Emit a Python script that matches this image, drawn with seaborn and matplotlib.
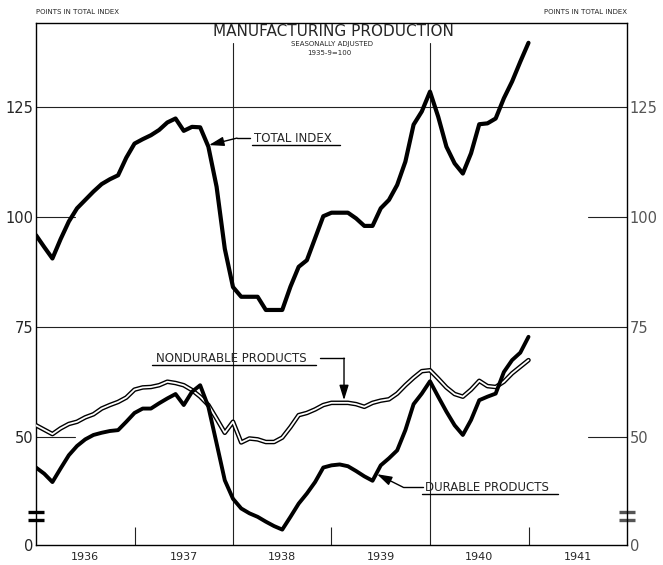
"""Manufacturing production chart, 1936-1940, with durable and nondurable parts."""

import matplotlib
matplotlib.use("Agg")
import matplotlib.pyplot as plt
import pandas as pd
import seaborn as sns

# month index counted from January 1936 (0) to January 1941 (60)
months = list(range(61))

total_index = [
    95.9, 93.2, 90.6, 95.0, 99.0, 102.0, 103.9, 105.8, 107.5, 108.6, 109.5, 113.5,
    116.7, 117.7, 118.6, 119.8, 121.5, 122.4, 119.6, 120.5, 120.4, 116.0, 106.9, 92.8,
    84.1, 81.9, 81.9, 81.9, 78.9, 78.9, 78.9, 84.2, 88.7, 90.2, 95.2, 100.2,
    101.0, 101.0, 101.0, 99.7, 98.0, 98.0, 102.0, 103.9, 107.3, 112.6, 121.0, 124.0,
    128.5, 122.8, 116.0, 112.2, 109.9, 114.5, 121.1, 121.3, 122.4, 127.0, 130.8, 135.3,
    139.6,
]
durable = [
    43.1, 41.7, 39.8, 42.9, 45.9, 48.0, 49.5, 50.5, 51.0, 51.4, 51.6, 53.5,
    55.5, 56.5, 56.5, 57.7, 58.8, 59.8, 57.3, 60.3, 61.8, 56.9, 48.6, 40.2,
    36.0, 33.8, 32.7, 31.9, 30.8, 29.8, 29.0, 31.9, 34.9, 37.2, 39.8, 43.1,
    43.6, 43.8, 43.4, 42.3, 41.1, 40.1, 43.6, 45.2, 47.0, 51.6, 57.5, 59.9,
    62.7, 59.2, 55.8, 52.7, 50.5, 53.9, 58.4, 59.2, 59.9, 64.8, 67.5, 69.2,
    72.8,
]
nondurable = [
    52.7, 51.7, 50.7, 52.0, 53.0, 53.5, 54.5, 55.2, 56.5, 57.3, 58.0, 59.0,
    60.8, 61.3, 61.4, 61.8, 62.6, 62.3, 61.8, 60.7, 59.2, 57.3, 54.2, 51.0,
    53.5, 48.8, 49.7, 49.5, 48.9, 48.9, 49.9, 52.3, 55.0, 55.5, 56.3, 57.3,
    57.8, 57.8, 57.8, 57.5, 56.9, 57.8, 58.3, 58.6, 59.9, 61.8, 63.5, 65.0,
    65.2, 63.3, 61.3, 59.8, 59.2, 60.8, 62.8, 61.6, 61.4, 62.6, 64.5, 66.0,
    67.5,
]

years = ["1936", "1937", "1938", "1939", "1940", "1941"]
ytick_values = [50, 75, 100, 125]
AXIS_FLOOR = 25.5  # bottom of the broken scale, labelled "0"

df = pd.DataFrame({
    "month": months, "total": total_index,
    "durable": durable, "nondurable": nondurable,
})

sns.set_style("white")
plt.rcParams["font.family"] = ["DejaVu Sans"]

fig = plt.figure(figsize=(6.63, 5.65), dpi=100)
ax = fig.add_axes([36 / 663, 20 / 565, 591 / 663, 522 / 565])


def px(x, y):
    """Reference pixel position -> data coordinates."""
    return (x - 36) / 8.208, 50 + (437 - y) / 4.4


# grid and frame
for v in (75, 125):
    ax.axhline(v, color="#222222", lw=0.8, zorder=1)
for v in (50, 100):
    ax.axhline(v, xmin=0, xmax=0.066, color="#222222", lw=0.8, zorder=1)
    ax.axhline(v, xmin=0.934, xmax=1, color="#222222", lw=0.8, zorder=1)
for m in (24, 48):
    ax.axvline(m, ymin=0, ymax=0.962, color="#222222", lw=0.8, zorder=1)

sns.lineplot(data=df, x="month", y="total", color="black", lw=3.0, ax=ax, zorder=3)
sns.lineplot(data=df, x="month", y="nondurable", color="black", lw=3.3, ax=ax, zorder=3)
sns.lineplot(data=df, x="month", y="nondurable", color="white", lw=1.3, ax=ax, zorder=3)
sns.lineplot(data=df, x="month", y="durable", color="black", lw=2.8, ax=ax, zorder=4)

ax.set_xlim(0, 72)
ax.set_ylim(AXIS_FLOOR, 144.1)
ax.set_xlabel("")
ax.set_ylabel("")

for side in ("left", "right", "top", "bottom"):
    ax.spines[side].set_visible(True)
    ax.spines[side].set_color("black")
    ax.spines[side].set_linewidth(1.0)

ax.set_xticks([12, 36, 60])
ax.set_xticklabels([])
ax.set_xticks([6 + 12 * k for k in range(len(years))], minor=True)
ax.set_xticklabels(years, minor=True, fontsize=8)
ax.tick_params(axis="x", which="major", direction="in", length=13, width=0.8,
               color="#222222", bottom=True)
ax.tick_params(axis="x", which="minor", length=0, pad=5)

ax.set_yticks([AXIS_FLOOR] + ytick_values)
ax.set_yticklabels(["0"] + [str(v) for v in ytick_values], fontsize=10.5)
ax.tick_params(axis="y", length=0, pad=2, left=False, right=False,
               labelleft=True, labelright=True)
for tick in ax.yaxis.get_major_ticks():
    tick.label2.set_color("#555555")

# scale break marks
for xa, col in ((0.0, "black"), (1.0, "#555555")):
    for ya in (0.063, 0.047):
        ax.plot([xa - 0.013, xa + 0.013], [ya, ya], color=col, lw=2.4,
                transform=ax.transAxes, clip_on=False, solid_capstyle="butt")

# titles
fig.text(333 / 663, 1 - 31 / 565, "MANUFACTURING PRODUCTION", ha="center",
         va="center", fontsize=11)
fig.text(332 / 663, 1 - 44 / 565, "SEASONALLY ADJUSTED", ha="center",
         va="center", fontsize=5)
fig.text(329 / 663, 1 - 53 / 565, "1935-9=100", ha="center", va="center",
         fontsize=5)
fig.text(36 / 663, 1 - 12 / 565, "POINTS IN TOTAL INDEX", ha="left",
         va="center", fontsize=5)
fig.text(627 / 663, 1 - 12 / 565, "POINTS IN TOTAL INDEX", ha="right",
         va="center", fontsize=5)

arrow = dict(arrowstyle="-|>,head_length=0.9,head_width=0.28", color="black",
             lw=1.0, shrinkA=0, shrinkB=0)


def label(text, text_xy, underline, leader, tip):
    ax.text(*px(*text_xy), text, ha="left", va="center", fontsize=8.5,
            zorder=5)
    ax.plot(*zip(px(underline[0], underline[2]), px(underline[1], underline[2])),
            color="black", lw=1.0, zorder=5)
    ax.plot(*zip(*[px(*p) for p in leader]), color="black", lw=1.0, zorder=5)
    ax.annotate("", xy=px(*tip), xytext=px(*leader[-1]), arrowprops=arrow,
                zorder=5)


label("TOTAL INDEX", (254, 138), (252, 340, 145),
      [(250, 138), (237, 138)], (209, 145))
label("NONDURABLE PRODUCTS", (156, 358), (152, 316, 365),
      [(320, 358), (344, 358)], (344, 400))
label("DURABLE PRODUCTS", (425, 487), (422, 558, 494),
      [(423, 487), (403, 487)], (377, 474))

fig.savefig("out.png", dpi=100)
